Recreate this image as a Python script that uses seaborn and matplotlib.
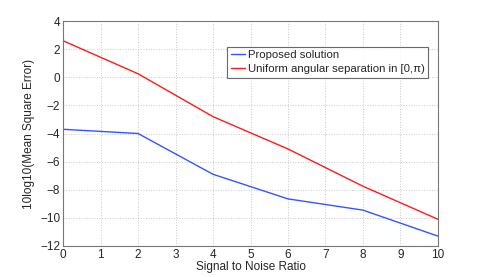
import matplotlib
matplotlib.use('Agg')
import matplotlib.pyplot as plt
import seaborn as sns
import pandas as pd

snr = [0, 2, 4, 6, 8, 10]
proposed = [-3.7, -4.0, -6.9, -8.65, -9.45, -11.3]
uniform = [2.6, 0.25, -2.8, -5.1, -7.75, -10.1]
labels = ['Proposed solution', 'Uniform angular separation in [0,\u03c0)']

sns.set_style('white')
plt.rcParams['font.family'] = ['Liberation Sans', 'DejaVu Sans']

df = pd.DataFrame({
    'snr': snr * 2,
    'mse': proposed + uniform,
    'method': [labels[0]] * len(snr) + [labels[1]] * len(snr),
})

fig = plt.figure(figsize=(4.85, 2.77), dpi=100)
ax = fig.add_axes([0.130, 0.112, 0.773, 0.812])
sns.lineplot(data=df, x='snr', y='mse', hue='method',
             palette=['#3355ff', '#ff1a1a'], linewidth=1.0, ax=ax)

ax.set_xlim(0, 10)
ax.set_ylim(-12, 4)
ax.set_xticks(range(0, 11))
ax.set_yticks(range(-12, 5, 2))
ax.set_yticklabels([str(v).replace('-', '\u2212') for v in range(-12, 5, 2)])
ax.grid(True, linestyle=':', color='#c8c8c8', linewidth=0.7)
ax.tick_params(direction='in', length=3, labelsize=8.5, color='#666666', pad=2)
for s in ax.spines.values():
    s.set_color('#777777')
    s.set_linewidth(0.8)
ax.set_xlabel('Signal to Noise Ratio', fontsize=8.5, labelpad=0)
ax.set_ylabel('10log10(Mean Square Error)', fontsize=8.5)
ax.yaxis.set_label_coords(-0.075, 0.5)

leg = ax.legend(loc='upper left', bbox_to_anchor=(0.438, 0.885), fontsize=8.2,
                frameon=True, fancybox=False, handlelength=1.3, handletextpad=0.2,
                borderpad=0.3, labelspacing=0.35, borderaxespad=0)
leg.get_frame().set_edgecolor('#444444')
leg.get_frame().set_linewidth(0.8)

fig.savefig('out.png', dpi=100)
